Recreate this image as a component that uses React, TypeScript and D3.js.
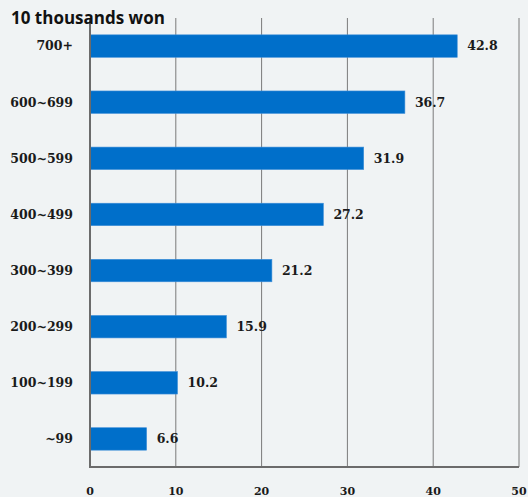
import React from "react";
import * as d3 from "d3";

// Income bands (10 thousands won), top to bottom
const categories: string[] = ["700+", "600~699", "500~599", "400~499", "300~399", "200~299", "100~199", "~99"];
const values: number[] = [42.8, 36.7, 31.9, 27.2, 21.2, 15.9, 10.2, 6.6];
const xTicks: number[] = [0, 10, 20, 30, 40, 50];
const unitTitle = "10 thousands won";

const W = 528;
const H = 497;
const plot = { left: 90, right: 519, top: 18, bottom: 467 };
const serif = "'DejaVu Serif', 'Liberation Serif', serif";

export default function App() {
  const x = d3.scaleLinear().domain([0, 50]).range([plot.left, plot.right]);
  const y = d3
    .scaleBand<string>()
    .domain(categories)
    .range([plot.top, plot.bottom])
    .paddingInner(0.6)
    .paddingOuter(0.3);

  return (
    <div style={{ position: "fixed", left: 0, top: 0, width: W, height: H }}>
      <svg width={W} height={H} viewBox={`0 0 ${W} ${H}`} style={{ display: "block" }}>
        <rect x={0} y={0} width={W} height={H} fill="#f0f3f4" />

        {/* vertical gridlines */}
        {xTicks.slice(1).map((t) => (
          <line
            key={`g${t}`}
            x1={x(t)}
            x2={x(t)}
            y1={plot.top}
            y2={plot.bottom}
            stroke="#7a7a7a"
            strokeWidth={1}
          />
        ))}

        {/* bars */}
        {categories.map((c, i) => (
          <rect
            key={c}
            x={x(0)}
            y={y(c)}
            width={x(values[i]) - x(0)}
            height={y.bandwidth()}
            fill="#006fca"
            stroke="#3f8fd8"
            strokeWidth={0.6}
          />
        ))}

        {/* axes */}
        <line x1={plot.left} x2={plot.left} y1={plot.top} y2={plot.bottom + 1} stroke="#6b6b6b" strokeWidth={2} />
        <line x1={plot.left - 1} x2={plot.right} y1={plot.bottom} y2={plot.bottom} stroke="#6b6b6b" strokeWidth={2} />

        {/* value labels */}
        {categories.map((c, i) => (
          <text
            key={`v${c}`}
            x={x(values[i]) + 10}
            y={(y(c) as number) + y.bandwidth() / 2}
            dy="0.35em"
            fontFamily={serif}
            fontWeight="bold"
            fontSize={12.5}
            fill="#1a1a1a"
          >
            {values[i].toFixed(1)}
          </text>
        ))}

        {/* category labels */}
        {categories.map((c) => (
          <text
            key={`c${c}`}
            x={73}
            y={(y(c) as number) + y.bandwidth() / 2}
            dy="0.35em"
            textAnchor="end"
            fontFamily={serif}
            fontWeight="bold"
            fontSize={12.5}
            fill="#1a1a1a"
          >
            {c}
          </text>
        ))}

        {/* x tick labels */}
        {xTicks.map((t) => (
          <text
            key={`t${t}`}
            x={x(t)}
            y={491}
            dy="0.35em"
            textAnchor="middle"
            fontFamily={serif}
            fontWeight="bold"
            fontSize={11}
            fill="#1a1a1a"
          >
            {t}
          </text>
        ))}

        {/* unit title */}
        <text x={11} y={24} fontFamily="'Open Sans', Lato, sans-serif" fontWeight="bold" fontSize={17} fill="#111">
          {unitTitle}
        </text>
      </svg>
    </div>
  );
}
